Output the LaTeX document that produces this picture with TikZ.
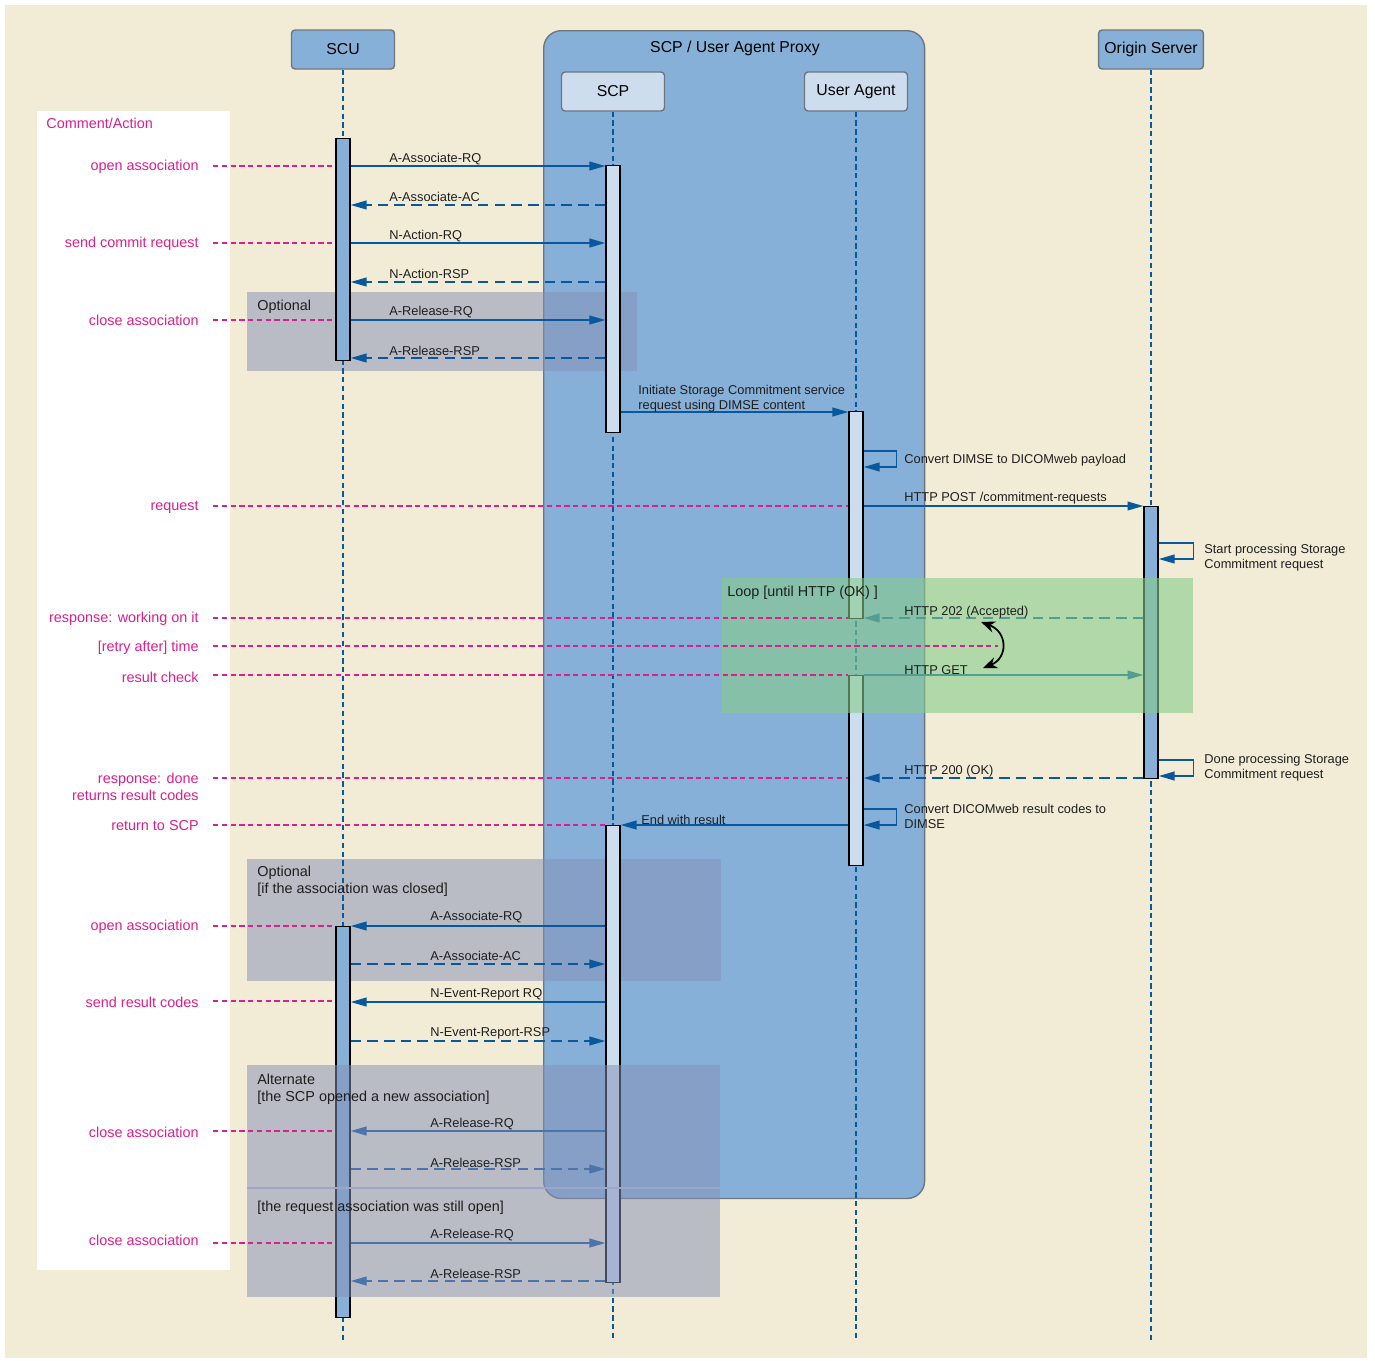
\documentclass[tikz,border=0pt]{standalone}
\usepackage{fontspec}
\setmainfont{Liberation Sans}
\usetikzlibrary{arrows.meta, positioning, calc}
\definecolor{creambg}{RGB}{242,236,214}
\definecolor{proxyblue}{RGB}{134,176,216}
\definecolor{lightblue}{RGB}{206,221,238}
\definecolor{msgblue}{RGB}{8,88,158}
\definecolor{edgegray}{RGB}{110,118,130}
\definecolor{notepink}{RGB}{218,32,140}
\definecolor{framegray}{RGB}{133,144,183}
\definecolor{loopgreen}{RGB}{134,203,139}
\definecolor{textdark}{RGB}{30,30,30}
\tikzset{
    head/.style={
        rectangle,
        rounded corners=2pt,
        draw=edgegray,
        line width=0.8pt,
        minimum width=2.06cm,
        minimum height=0.78cm,
        font=\fontsize{9}{10}\selectfont
    },
    bar/.style={
        rectangle,
        draw=black,
        line width=0.8pt,
        minimum width=0.28cm,
        inner sep=0pt,
        anchor=north
    },
    life/.style={msgblue, line width=0.6pt, dash pattern=on 3pt off 2pt},
    msg/.style={msgblue, line width=0.85pt, -{Triangle[length=9pt,width=5pt]}},
    reply/.style={msg, dash pattern=on 6pt off 3.5pt},
    lbl/.style={textdark, font=\fontsize{7.3}{8.6}\selectfont, inner sep=0pt, align=left, anchor=west, yshift=-0.035cm},
    note/.style={notepink, font=\fontsize{8.2}{9.6}\selectfont, inner sep=0pt, align=right, anchor=east, yshift=-0.04cm},
    noteline/.style={notepink, line width=0.6pt, dash pattern=on 3pt off 2pt},
    frame/.style={fill=framegray, fill opacity=0.52},
    frametxt/.style={textdark, font=\fontsize{8.2}{9.6}\selectfont, inner sep=0pt, align=left, anchor=west, yshift=-0.04cm}
}

\begin{document}
\begin{tikzpicture}[x=0.02cm, y=-0.02cm]

    % --- background ---
    \fill[white] (0,0) rectangle (1375,1360);
    \fill[creambg] (5,5) rectangle (1367,1358);
    \fill[white] (37,111) rectangle (230,1270);
    \node (cmt) [notepink, font=\fontsize{8.2}{9.6}\selectfont, inner sep=0pt, anchor=west] at (46,123) {Comment/Action};

    % --- proxy container ---
    \node (proxy) [draw=edgegray, fill=proxyblue, rounded corners=10pt, line width=0.8pt, inner sep=0pt,
        minimum width=7.62cm, minimum height=23.36cm, anchor=north west] at (543,30) {};
    \node (proxyT) [font=\fontsize{9}{10}\selectfont] at (735,48.5) {SCP / User Agent Proxy};

    % --- heads ---
    \node (scuH) [head, fill=proxyblue] at (343,49.5) {SCU};
    \node (scpH) [head, fill=lightblue] at (613,91.5) {SCP};
    \node (uaH) [head, fill=lightblue] at (856,91.5) {User Agent};
    \node (osH) [head, fill=proxyblue] at (1151,49.5) {Origin Server};

    % --- frames behind ---
    \fill[frame] (247,292) rectangle (637,371);
    \fill[frame] (247,859) rectangle (721,981);

    % --- lifelines ---
    \coordinate (scuE) at (343,1340);
    \coordinate (scpE) at (613,1340);
    \coordinate (uaE) at (856,1340);
    \coordinate (osE) at (1151,1340);
    \draw[life] (scuH) -- (scuE);
    \draw[life] (scpH) -- (scpE);
    \draw[life] (uaH) -- (uaE);
    \draw[life] (osH) -- (osE);

    % --- activations ---
    \node (scuA1) [bar, fill=proxyblue, minimum height=4.44cm] at (343,138) {};
    \node (scpA1) [bar, fill=lightblue, minimum height=5.34cm] at (613,165) {};
    \node (uaA1) [bar, fill=lightblue, minimum height=4.14cm] at (856,411) {};
    \node (osA1) [bar, fill=proxyblue, minimum height=5.44cm] at (1151,506) {};
    \node (uaA2) [bar, fill=lightblue, minimum height=3.8cm] at (856,675) {};
    \node (scpA2) [bar, fill=lightblue, minimum height=9.14cm] at (613,825) {};
    \node (scuA2) [bar, fill=proxyblue, minimum height=7.82cm] at (343,926) {};

    % --- association + request ---
    \draw[msg] (scuA1.east |- 0,166) -- (scpA1.west |- 0,166);
    \draw[reply] (scpA1.west |- 0,205) -- (scuA1.east |- 0,205);
    \draw[msg] (scuA1.east |- 0,243) -- (scpA1.west |- 0,243);
    \draw[reply] (scpA1.west |- 0,282) -- (scuA1.east |- 0,282);
    \draw[msg] (scuA1.east |- 0,320) -- (scpA1.west |- 0,320);
    \draw[reply] (scpA1.west |- 0,358) -- (scuA1.east |- 0,358);

    % --- proxy ---
    \draw[msg] (scpA1.east |- 0,412) -- (uaA1.west |- 0,412);
    \draw[msg] (uaA1.east |- 0,451) -- ++(33,0) -- ++(0,16) -- (uaA1.east |- 0,467);
    \draw[msg] (uaA1.east |- 0,506) -- (osA1.west |- 0,506);
    \draw[msg] (osA1.east |- 0,543) -- ++(35,0) -- ++(0,16) -- (osA1.east |- 0,559);
    \draw[reply] (osA1.west |- 0,618) -- (uaA1.east |- 0,618);
    \draw[msg] (uaA2.east |- 0,675) -- (osA1.west |- 0,675);
    \draw[msg] (osA1.east |- 0,760) -- ++(35,0) -- ++(0,16) -- (osA1.east |- 0,776);
    \draw[reply] (osA1.west |- 0,778) -- (uaA2.east |- 0,778);
    \draw[msg] (uaA2.east |- 0,809) -- ++(33,0) -- ++(0,16) -- (uaA2.east |- 0,825);
    \draw[msg] (uaA2.west |- 0,825) -- (scpA2.east |- 0,825);

    % --- result codes ---
    \draw[msg] (scpA2.west |- 0,926) -- (scuA2.east |- 0,926);
    \draw[reply] (scuA2.east |- 0,964) -- (scpA2.west |- 0,964);
    \draw[msg] (scpA2.west |- 0,1002) -- (scuA2.east |- 0,1002);
    \draw[reply] (scuA2.east |- 0,1041) -- (scpA2.west |- 0,1041);
    \draw[msg] (scpA2.west |- 0,1131) -- (scuA2.east |- 0,1131);
    \draw[reply] (scuA2.east |- 0,1169) -- (scpA2.west |- 0,1169);
    \draw[msg] (scuA2.east |- 0,1243) -- (scpA2.west |- 0,1243);
    \draw[reply] (scpA2.west |- 0,1281) -- (scuA2.east |- 0,1281);

    % --- overlays ---
    \fill[loopgreen, fill opacity=0.6] (722,578) rectangle (1193,713);
    \fill[frame] (247,1065) rectangle (720,1297);
    \draw[framegray!80!white, line width=0.8pt] (247,1188) -- (720,1188);

    % retry wait, on top of the loop
    \coordinate (retryA) at (981,622);
    \coordinate (retryB) at (983,668);
    \coordinate (retryM) at (998,646);
    \draw[black, line width=1pt, {Stealth[length=8pt,width=6.5pt]}-{Stealth[length=8pt,width=6.5pt]}]
        (retryA) .. controls (1008,632) and (1008,658) .. (retryB);

    % --- frame texts ---
    \node (fOpt1) [frametxt] at (257,305) {Optional};
    \node (fLoop) [frametxt] at (727,591) {Loop [until HTTP (OK) ]};
    \node (fOpt2) [frametxt] at (257,879.5) {Optional\\[0pt][if the association was closed]};
    \node (fAlt) [frametxt] at (257,1087.5) {Alternate\\[0pt][the SCP opened a new association]};
    \node (fElse) [frametxt] at (257,1206) {[the request association was still open]};

    % --- message labels ---
    \node (m1) [lbl] at (389,157) {A-Associate-RQ};
    \node (m2) [lbl] at (389,195.5) {A-Associate-AC};
    \node (m3) [lbl] at (389,234) {N-Action-RQ};
    \node (m4) [lbl] at (389,272.5) {N-Action-RSP};
    \node (m5) [lbl] at (389,310.5) {A-Release-RQ};
    \node (m6) [lbl] at (389,349) {A-Release-RSP};
    \node (m7) [lbl] at (638,396.5) {Initiate Storage Commitment service\\request using DIMSE content};
    \node (m8) [lbl] at (904,458.5) {Convert DIMSE to DICOMweb payload};
    \node (m9) [lbl] at (904,496.5) {HTTP POST /commitment-requests};
    \node (m10) [lbl] at (1204,556) {Start processing Storage\\Commitment request};
    \node (m11) [lbl] at (904,610.5) {HTTP 202 (Accepted)};
    \node (m12) [lbl] at (904,668.5) {HTTP GET};
    \node (m13) [lbl] at (1204,766) {Done processing Storage\\Commitment request};
    \node (m14) [lbl] at (904,769.5) {HTTP 200 (OK)};
    \node (m15) [lbl] at (904,814.5) {Convert DICOMweb result codes to\\DIMSE};
    \node (m16) [lbl] at (641,818.5) {End with result};
    \node (m17) [lbl] at (430,915.5) {A-Associate-RQ};
    \node (m18) [lbl] at (430,954.5) {A-Associate-AC};
    \node (m19) [lbl] at (430,992.5) {N-Event-Report RQ};
    \node (m20) [lbl] at (430,1031.5) {N-Event-Report-RSP};
    \node (m21) [lbl] at (430,1122.5) {A-Release-RQ};
    \node (m22) [lbl] at (430,1161.5) {A-Release-RSP};
    \node (m23) [lbl] at (430,1233.5) {A-Release-RQ};
    \node (m24) [lbl] at (430,1272.5) {A-Release-RSP};

    % --- comments ---
    \node (nOpen) [note] at (199,165) {open association};
    \node (nCommit) [note] at (199,242) {send commit request};
    \node (nClose) [note] at (199,318) {close association};
    \node (nReq) [note] at (199,505) {request};
    \node (nWork) [note] at (199,617) {response: working on it};
    \node (nRetry) [note] at (199,646) {[retry after] time};
    \node (nCheck) [note] at (199,675) {result check};
    \node (nDone) [note] at (199,785) {response: done\\[0pt]returns result codes};
    \node (nBack) [note] at (199,824) {return to SCP};
    \node (nOpen2) [note] at (199,925) {open association};
    \node (nResult) [note] at (199,1000) {send result codes};
    \node (nClose2) [note] at (199,1130) {close association};
    \node (nClose3) [note] at (199,1238) {close association};

    \draw[noteline] (nOpen.east |- 0,166) ++(14,0) -- (scuA1.west |- 0,166);
    \draw[noteline] (nCommit.east |- 0,243) ++(14,0) -- (scuA1.west |- 0,243);
    \draw[noteline] (nClose.east |- 0,320) ++(14,0) -- (scuA1.west |- 0,320);
    \draw[noteline] (nReq.east |- 0,506) ++(14,0) -- (uaA1.west |- 0,506);
    \draw[noteline] (nWork.east |- 0,618) ++(14,0) -- (uaA1.west |- 0,618);
    \draw[noteline] (nRetry.east |- 0,646) ++(14,0) -- (retryM);
    \draw[noteline] (nCheck.east |- 0,675) ++(14,0) -- (uaA2.west |- 0,675);
    \draw[noteline] (nDone.east |- 0,778) ++(14,0) -- (uaA2.west |- 0,778);
    \draw[noteline] (nBack.east |- 0,825) ++(14,0) -- (scpA2.west |- 0,825);
    \draw[noteline] (nOpen2.east |- 0,926) ++(14,0) -- (scuA2.west |- 0,926);
    \draw[noteline] (nResult.east |- 0,1001) ++(14,0) -- (scuA2.west |- 0,1001);
    \draw[noteline] (nClose2.east |- 0,1131) ++(14,0) -- (scuA2.west |- 0,1131);
    \draw[noteline] (nClose3.east |- 0,1243) ++(14,0) -- (scuA2.west |- 0,1243);

\end{tikzpicture}
\end{document}
